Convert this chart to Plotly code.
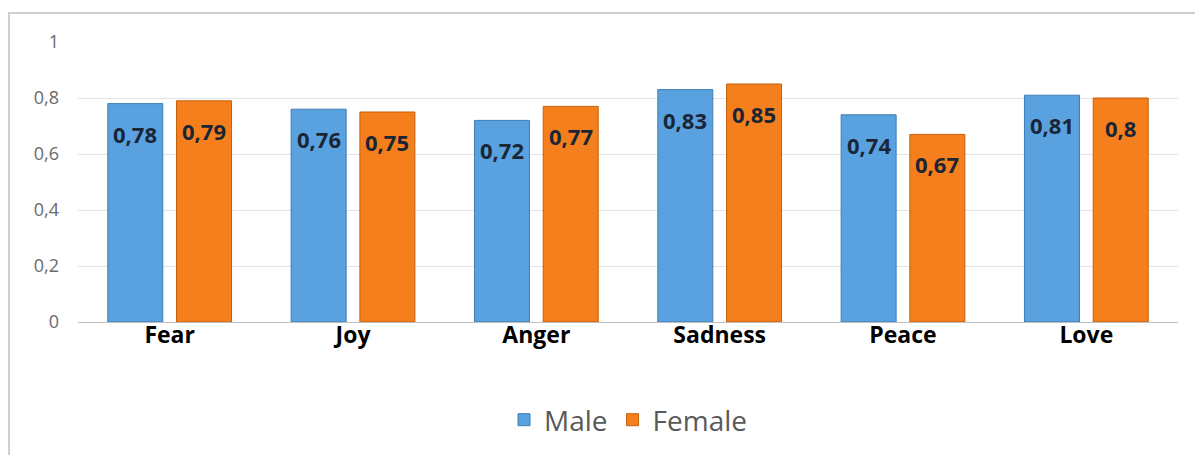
import plotly.graph_objects as go

categories = ["Fear", "Joy", "Anger", "Sadness", "Peace", "Love"]
male = [0.78, 0.76, 0.72, 0.83, 0.74, 0.81]
female = [0.79, 0.75, 0.77, 0.85, 0.67, 0.80]
y_ticks = [0, 0.2, 0.4, 0.6, 0.8, 1]
y_tick_labels = ["0", "0,2", "0,4", "0,6", "0,8", "1"]


def fmt(v):
    s = f"{v:.2f}".rstrip("0").rstrip(".")
    return s.replace(".", ",")


BARGAP = 0.25
BARGROUPGAP = 0.2
FONT = "Open Sans, Liberation Sans, sans-serif"

# page is offset by the 8px body margin; plot area spans page x 78..1178, y 42..322
L, T = 70, 34
PW, PH = 1100, 280
W, H = 1203, 455

fig = go.Figure()
fig.add_trace(go.Bar(
    name="Male", x=categories, y=male,
    marker=dict(color="#5aa2df", line=dict(color="#3d7db5", width=1)),
))
fig.add_trace(go.Bar(
    name="Female", x=categories, y=female,
    marker=dict(color="#f57f1c", line=dict(color="#c55e0a", width=1)),
))

slot = (1 - BARGAP) / 2
offsets = [-slot / 2, slot / 2]
for series, off in zip([male, female], offsets):
    for i, v in enumerate(series):
        fig.add_annotation(
            x=i + off, y=v, xref="x", yref="y", text="<b>" + fmt(v) + "</b>",
            showarrow=False, yanchor="middle", yshift=-30,
            font=dict(family=FONT, size=22, color="#1a2535"),
        )

fig.update_layout(
    width=W, height=H,
    margin=dict(l=L, r=W - L - PW, t=T, b=H - T - PH),
    paper_bgcolor="white", plot_bgcolor="white",
    barmode="group", bargap=BARGAP, bargroupgap=BARGROUPGAP,
    font=dict(family=FONT),
    showlegend=True,
    legend=dict(
        orientation="h", x=0.5, xanchor="center", y=-(412 - 314) / PH, yanchor="middle",
        font=dict(size=28, color="#595959"), itemwidth=30,
    ),
)
fig.update_xaxes(
    showgrid=False, showline=True, linecolor="#bfbfbf", linewidth=1,
    tickfont=dict(size=23, color="#000000", family=FONT),
    ticks="", ticklabelstandoff=-8,
    tickprefix="<b>", ticksuffix="</b>",
)
fig.update_yaxes(
    range=[0, 1], tickvals=y_ticks, ticktext=y_tick_labels,
    showgrid=True, gridcolor="#e3e3e3", gridwidth=1, zeroline=False,
    tickfont=dict(size=18, color="#6a6a6a", family=FONT), ticks="", ticklabelstandoff=18,
)
fig.add_shape(
    type="rect", xref="paper", yref="paper",
    x0=(1 - L) / PW, x1=(1195 - L) / PW, y0=-0.7, y1=(T + PH - 5) / PH,
    line=dict(color="#d0d0d0", width=2), layer="below",
)
fig.write_html("out.html")
